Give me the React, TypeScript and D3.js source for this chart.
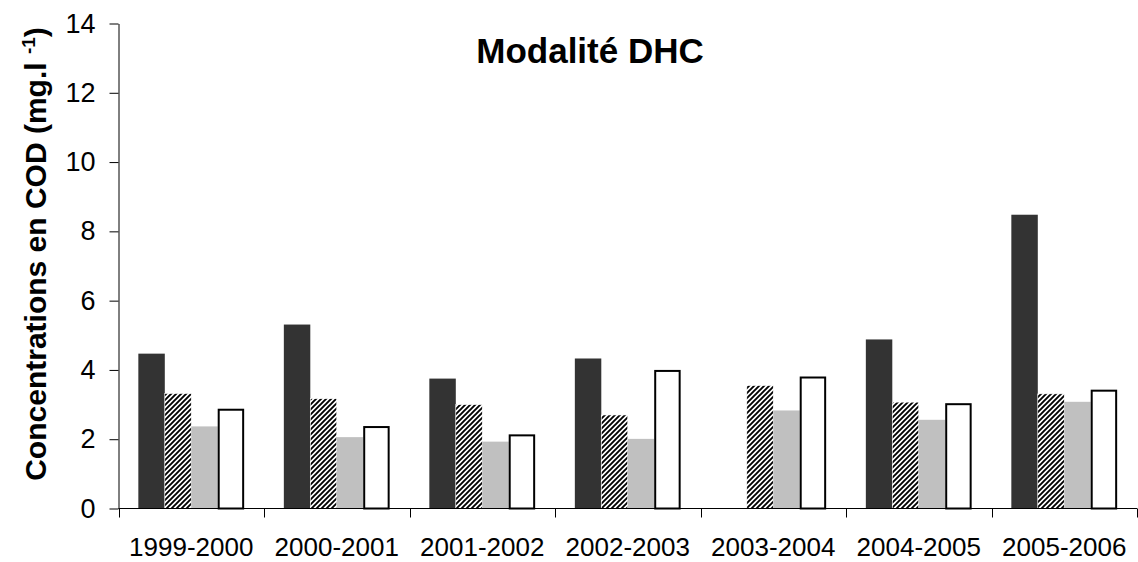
import * as d3 from 'd3';
import React, { useEffect, useRef } from 'react';

const categories = ['1999-2000', '2000-2001', '2001-2002', '2002-2003', '2003-2004', '2004-2005', '2005-2006'];
const seriesNames = ['s1', 's2', 's3', 's4'];
const s1 = [4.47, 5.31, 3.75, 4.33, 0, 4.88, 8.48];
const s2 = [3.32, 3.17, 3.0, 2.7, 3.55, 3.07, 3.31];
const s3 = [2.37, 2.06, 1.93, 2.01, 2.83, 2.56, 3.08];
const s4 = [2.88, 2.38, 2.14, 4.0, 3.81, 3.04, 3.43];
const yTicks = [0, 2, 4, 6, 8, 10, 12, 14];

const title = 'Modalité DHC';
const font = '"Liberation Sans", Arial, sans-serif';

const W = 1138;
const H = 562;
const left = 118.5;
const right = 1137;
const top = 23.5;
const bottom = 508.5;

const App = () => {
  const svgRef = useRef(null);

  const renderSvg = () => {
    const svg = d3.select(svgRef.current);
    svg.selectAll('*').remove();

    const defs = svg.append('defs');
    const pat = defs
      .append('pattern')
      .attr('id', 'hatch')
      .attr('patternUnits', 'userSpaceOnUse')
      .attr('width', 5)
      .attr('height', 5);
    pat.append('rect').attr('width', 5).attr('height', 5).attr('fill', '#fff');
    pat
      .append('path')
      .attr('d', 'M-1,1 l2,-2 M0,5 l5,-5 M4,6 l2,-2')
      .attr('stroke', '#000')
      .attr('stroke-width', 1.9);

    const x = d3.scaleBand().domain(categories).range([left, right]).padding(0);
    const x1 = d3
      .scaleBand()
      .domain(seriesNames)
      .range([0, x.bandwidth()])
      .paddingInner(0)
      .paddingOuter(0.75);
    const y = d3.scaleLinear().domain([0, 14]).range([bottom, top]);

    const values = [s1, s2, s3, s4];
    const fills = ['#333333', 'url(#hatch)', '#c0c0c0', '#ffffff'];

    const bars = svg.append('g');
    seriesNames.forEach((s, si) => {
      bars
        .append('g')
        .selectAll('rect')
        .data(categories.map((c, i) => ({ c, v: values[si][i] })).filter((d) => d.v > 0))
        .enter()
        .append('rect')
        .attr('x', (d) => (x(d.c) as number) + (x1(s) as number) + (si === 3 ? 1 : 0))
        .attr('y', (d) => y(d.v) + (si === 3 ? 1 : 0))
        .attr('width', x1.bandwidth() - (si === 3 ? 2 : 0))
        .attr('height', (d) => bottom - y(d.v) - (si === 3 ? 1 : 0))
        .attr('fill', fills[si])
        .attr('stroke', si === 3 ? '#000' : si === 1 ? '#fff' : 'none')
        .attr('stroke-width', si === 3 ? 2 : 0.6);
    });

    // y axis
    const yAxis = svg
      .append('g')
      .attr('transform', `translate(${left},0)`)
      .call(
        d3
          .axisLeft(y)
          .tickValues(yTicks)
          .tickSize(9)
          .tickSizeOuter(0)
          .tickPadding(14)
          .tickFormat(d3.format('d'))
      );
    yAxis.selectAll('text').style('font-family', font).style('font-size', '27px').attr('fill', '#000');
    yAxis.selectAll('line, path').attr('stroke', '#000');

    // x axis
    const xa = svg.append('g');
    xa.append('line')
      .attr('x1', left)
      .attr('x2', right)
      .attr('y1', bottom)
      .attr('y2', bottom)
      .attr('stroke', '#000');
    const bounds = categories.map((c) => x(c) as number).concat([right - 0.5]);
    xa.selectAll('.tk')
      .data(bounds)
      .enter()
      .append('line')
      .attr('x1', (d) => Math.round(d) + 0.5)
      .attr('x2', (d) => Math.round(d) + 0.5)
      .attr('y1', bottom)
      .attr('y2', bottom + 9)
      .attr('stroke', '#000');
    xa.selectAll('.lbl')
      .data(categories)
      .enter()
      .append('text')
      .attr('x', (d) => (x(d) as number) + x.bandwidth() / 2)
      .attr('y', 556)
      .attr('text-anchor', 'middle')
      .style('font-family', font)
      .style('font-size', '26px')
      .text((d) => d);

    // title
    svg
      .append('text')
      .attr('x', 590)
      .attr('y', 63)
      .attr('text-anchor', 'middle')
      .style('font-family', font)
      .style('font-size', '35px')
      .style('font-weight', 'bold')
      .text(title);

    // y axis label
    const yl = svg
      .append('text')
      .attr('transform', 'translate(46,254) rotate(-90)')
      .attr('text-anchor', 'middle')
      .style('font-family', font)
      .style('font-size', '30px')
      .style('font-weight', 'bold');
    yl.append('tspan').text('Concentrations en COD (mg.l ');
    yl.append('tspan').attr('dy', -11).style('font-size', '19px').text('-1');
    yl.append('tspan').attr('dy', 11).text(')');
  };

  useEffect(() => {
    renderSvg();
  }, []);

  return (
    <svg
      ref={svgRef}
      width={W}
      height={H}
      style={{ position: 'absolute', left: 0, top: 0, background: '#fff' }}
    />
  );
};

export default App;
